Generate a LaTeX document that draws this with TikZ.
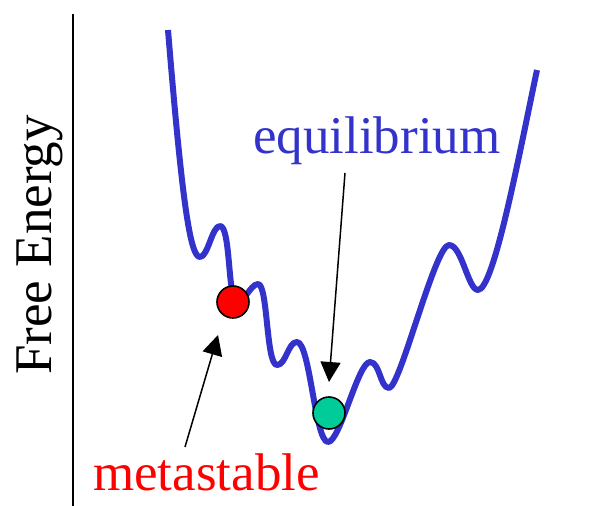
\documentclass[tikz,border=0pt]{standalone}
\usepackage{fontspec}
\setmainfont{Liberation Serif}
\usetikzlibrary{arrows.meta}
\definecolor{curveblue}{RGB}{51,51,204}
\definecolor{eqgreen}{RGB}{0,204,153}
\tikzset{
  energy/.style={draw=curveblue, line width=6pt, line cap=butt, line join=round},
  ball/.style={circle, draw=black, line width=1.6pt, minimum size=32pt, inner sep=0pt},
  pointer/.style={draw=black, line width=1.5pt, -{Triangle[length=20pt,width=20pt]}},
  bigtext/.style={inner sep=0pt, font=\fontsize{53}{60}\selectfont}
}
\begin{document}
\begin{tikzpicture}[x=1pt,y=-1pt]
\useasboundingbox (0,0) rectangle (590,506);
% axis
\coordinate (axtop) at (73,14);
\coordinate (axbot) at (73,506);
\draw[line width=1.3pt] (axtop) -- (axbot);
\node[bigtext, rotate=90, anchor=base] (ylab) at (52,245) {Free Energy};
% energy curve
\draw[energy] (168,30) .. controls (182,200) and (190,257) .. (200,257)
  .. controls (208,257) and (212,226) .. (220,226)
  .. controls (230,226) and (228,290) .. (235,300)
  .. controls (242,308) and (250,284) .. (258,284)
  .. controls (268,284) and (266,365) .. (277,365)
  .. controls (286,365) and (288,342) .. (297,342)
  .. controls (310,342) and (315,442) .. (328,442)
  .. controls (340,442) and (358,362) .. (370,362)
  .. controls (380,362) and (380,388) .. (389,388)
  .. controls (400,388) and (435,245) .. (449,245)
  .. controls (462,245) and (468,290) .. (478,290)
  .. controls (494,290) and (520,150) .. (537,70);
% balls
\node[ball, fill=red] (meta) at (233,302) {};
\node[ball, fill=eqgreen] (eq) at (329,413) {};
% labels
\node[bigtext, text=curveblue, anchor=base west] (eqlab) at (253,153) {equilibrium};
\node[bigtext, text=red, anchor=base west] (metalab) at (93,490) {metastable};
% arrows
\coordinate (eqtail) at (345,173);
\coordinate (eqtip) at (329,382);
\coordinate (mtail) at (185,447);
\coordinate (mtip) at (218,335);
\draw[pointer] (eqtail) -- (eqtip);
\draw[pointer] (mtail) -- (mtip);
\end{tikzpicture}
\end{document}
